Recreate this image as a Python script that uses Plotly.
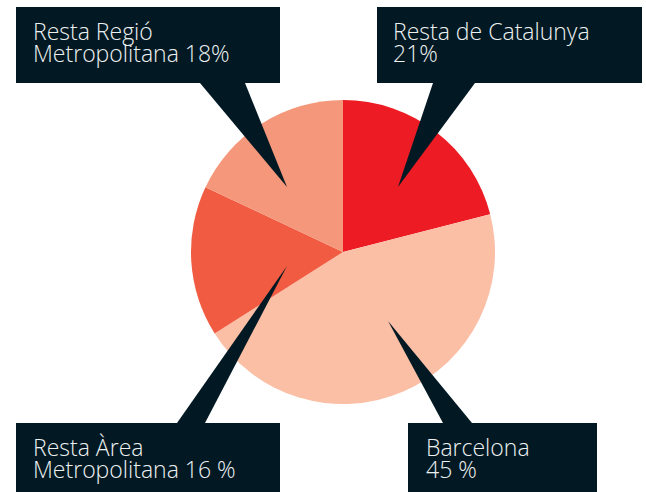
import plotly.graph_objects as go

# Data
labels = ["Resta de Catalunya", "Barcelona", "Resta Àrea Metropolitana", "Resta Regió Metropolitana"]
values = [21, 45, 16, 18]
colors = ["#ED1C24", "#FBBFA6", "#F15B42", "#F5977A"]
callout_line1 = ["Resta de Catalunya", "Barcelona", "Resta Àrea", "Resta Regió"]
callout_line2 = ["21%", "45 %", "Metropolitana 16 %", "Metropolitana 18%"]

W, H = 646, 492
BOX = "#021923"
FONT = "Open Sans, Liberation Sans, Arial"

def px(x):
    return x / W

def py(y):
    return 1 - y / H

cx, cy, r = 343, 252, 152

fig = go.Figure(go.Pie(
    labels=labels, values=values, sort=False, direction="clockwise", rotation=0,
    marker=dict(colors=colors, line=dict(width=0)),
    textinfo="none", hoverinfo="label+percent", showlegend=False,
    domain=dict(x=[px(cx - r), px(cx + r)], y=[py(cy + r), py(cy - r)]),
))

# callout geometry (pixels): box, triangle base, tip, text x, text line centres
callouts = [
    dict(box=(377, 7, 642, 83), base=(433, 475, 83), tip=(398, 187), tx=392, ty=(30.5, 53)),
    dict(box=(408, 423, 597, 492), base=(443, 472, 423), tip=(388, 321), tx=425, ty=(446.5, 468.5)),
    dict(box=(16, 423, 280, 492), base=(177, 205, 423), tip=(287, 266), tx=32, ty=(446.5, 468.5)),
    dict(box=(16, 7, 280, 83), base=(200, 245, 83), tip=(287, 187), tx=32, ty=(30.5, 53)),
]

shapes = []
annotations = []
for c, l1, l2 in zip(callouts, callout_line1, callout_line2):
    x0, y0, x1, y1 = c["box"]
    shapes.append(dict(type="rect", xref="paper", yref="paper",
                       x0=px(x0), x1=px(x1), y0=py(y1), y1=py(y0),
                       fillcolor=BOX, line=dict(width=0), layer="above"))
    xa, xb, yb = c["base"]
    tx, ty = c["tip"]
    path = f"M {px(xa)},{py(yb)} L {px(xb)},{py(yb)} L {px(tx)},{py(ty)} Z"
    shapes.append(dict(type="path", xref="paper", yref="paper", path=path,
                       fillcolor=BOX, line=dict(width=0), layer="above"))
    for txt, yy in zip((l1, l2), c["ty"]):
        annotations.append(dict(xref="paper", yref="paper", x=px(c["tx"]), y=py(yy),
                                xanchor="left", yanchor="middle", align="left", showarrow=False,
                                borderpad=0,
                                text=txt, font=dict(family=FONT, size=23, weight=300, color="#EEF1F2")))

fig.update_layout(
    width=W, height=H, margin=dict(l=0, r=0, t=0, b=0),
    paper_bgcolor="white", plot_bgcolor="white",
    shapes=shapes, annotations=annotations,
)

fig.write_html("out.html", config={"displayModeBar": False},
               post_script="document.body.style.margin='0px';")
